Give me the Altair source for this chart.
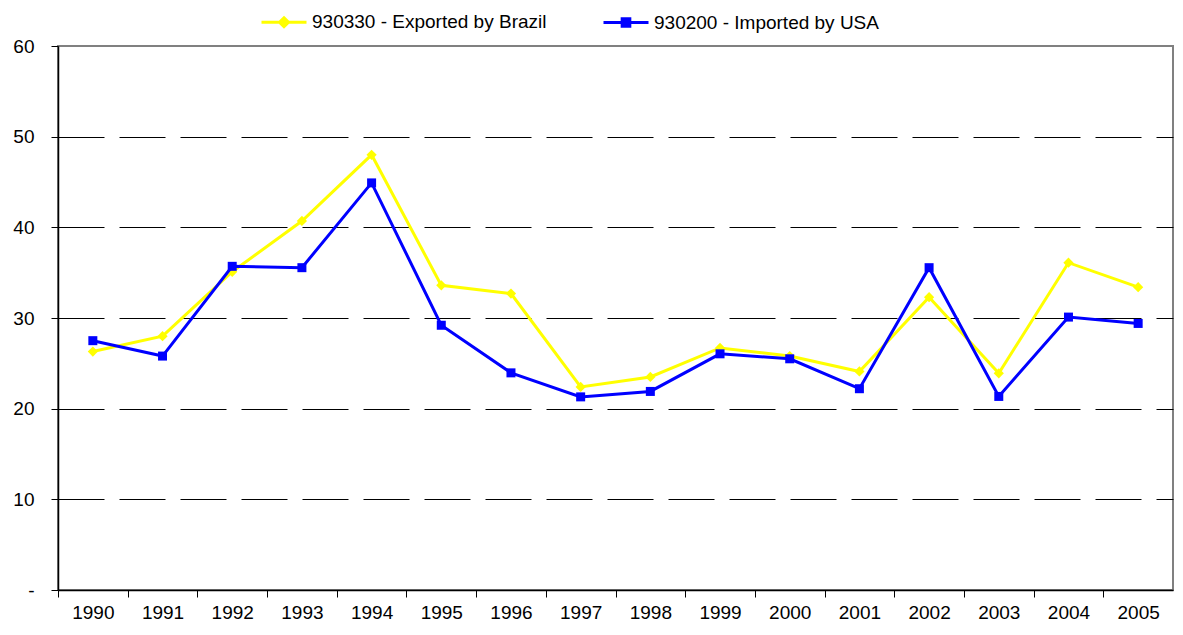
import altair as alt
import pandas as pd

# ---- data ----
years = [1990, 1991, 1992, 1993, 1994, 1995, 1996, 1997,
         1998, 1999, 2000, 2001, 2002, 2003, 2004, 2005]
brazil = [26.3, 28.0, 35.1, 40.7, 48.0, 33.6, 32.7, 22.4,
          23.5, 26.7, 25.8, 24.1, 32.3, 23.9, 36.1, 33.4]
usa = [27.5, 25.8, 35.7, 35.55, 44.9, 29.2, 23.95, 21.3,
       21.9, 26.05, 25.5, 22.2, 35.55, 21.35, 30.1, 29.4]
series = ["930330 - Exported by Brazil", "930200 - Imported by USA"]
y_ticks = [0, 10, 20, 30, 40, 50, 60]

colors = ["#FFFF00", "#0000FF"]
shapes = ["diamond", "square"]
sizes = [105, 81]

df = pd.DataFrame({
    "year": years + years,
    "value": brazil + usa,
    "series": [series[0]] * len(years) + [series[1]] * len(years),
})

FONT = "Liberation Sans"
W, H = 1115, 544
half = W / len(years) / 2

P0 = "M-1,0L1,0M0,-0.2L0.2,0L0,0.2L-0.2,0Z"
P1 = "M-1,0L1,0M-0.17,-0.17L0.17,-0.17L0.17,0.17L-0.17,0.17Z"
shape_expr = f"datum.value === '{series[0]}' ? '{P0}' : '{P1}'"

legend = alt.Legend(
    title=None, orient="none", legendX=202, legendY=-48,
    direction="horizontal", symbolSize=2025, symbolStrokeWidth=3,
    symbolType=alt.ExprRef(expr=shape_expr),
    symbolFillColor=alt.ExprRef(expr="scale('color', datum.value)"),
    symbolStrokeColor=alt.ExprRef(expr="scale('color', datum.value)"),
    symbolOpacity=1,
    labelOffset=4, columnPadding=50, labelFontSize=19, labelFont=FONT,
    labelColor="black", labelLimit=600, padding=0,
)

color_scale = alt.Scale(domain=series, range=colors)
color_leg = alt.Color("series:N", scale=color_scale, legend=legend)
color_noleg = alt.Color("series:N", scale=color_scale, legend=None)

x = alt.X("year:O", scale=alt.Scale(type="point", padding=0.5),
          axis=alt.Axis(title=None, labelAngle=0, tickOffset=-half, labelOffset=half,
                        tickSize=7, tickColor="black", domainColor="black", domainWidth=1.5,
                        labelFontSize=19, labelFont=FONT, labelColor="black",
                        labelPadding=6, grid=False))

zero_label = "'-" + "\u00a0" * 4 + "'"
y = alt.Y("value:Q", scale=alt.Scale(domain=[0, 60], nice=False),
          axis=alt.Axis(title=None, values=y_ticks,
                        labelExpr=f"datum.value == 0 ? {zero_label} : datum.label",
                        tickSize=7, tickColor="black", domainColor="black", domainWidth=1.5,
                        gridColor="black", gridDash=[46, 15], gridWidth=1,
                        gridOpacity={"condition": {"test": "datum.value == 0 || datum.value == 60", "value": 0}, "value": 1},
                        labelFontSize=19, labelFont=FONT, labelColor="black",
                        labelPadding=17))

base = alt.Chart(df)
layers = []
for s, shp, sz in zip(series, shapes, sizes):
    d = base.transform_filter(alt.datum.series == s)
    layers.append(d.mark_line(strokeWidth=3).encode(x=x, y=y, color=color_leg))
    layers.append(d.mark_point(filled=True, opacity=1, shape=shp, size=sz).encode(x=x, y=y, color=color_noleg))

chart = (
    alt.layer(*layers)
    .properties(
        width=W, height=H, autosize="none",
        padding={"left": 50, "top": 38, "right": 2, "bottom": 37},
    )
    .configure(font=FONT)
    .configure_view(stroke="#808080", strokeWidth=2)
)

chart.save("out.html", embed_options={"renderer": "svg", "actions": False})
